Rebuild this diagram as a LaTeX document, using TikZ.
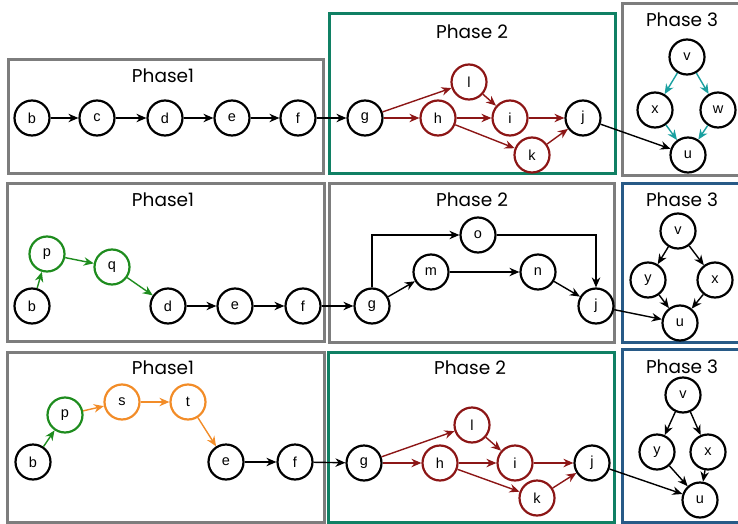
\documentclass[tikz,border=0pt]{standalone}
\usepackage{fontspec}
\setmainfont{Liberation Sans}
\newfontfamily\phasefont{Poppins}
\usetikzlibrary{arrows.meta}
\definecolor{boxgray}{RGB}{125,125,125}
\definecolor{boxteal}{RGB}{16,128,100}
\definecolor{boxblue}{RGB}{40,90,135}
\definecolor{dred}{RGB}{140,22,22}
\definecolor{dgreen}{RGB}{30,140,30}
\definecolor{orng}{RGB}{242,140,40}
\definecolor{tealar}{RGB}{25,160,160}
\tikzset{
  graybox/.style={draw=boxgray,line width=3pt},
  tealbox/.style={draw=boxteal,line width=3pt},
  bluebox/.style={draw=boxblue,line width=3pt},
  plabel/.style={font=\phasefont\fontsize{18.5}{21}\selectfont,inner sep=0pt},
  nd/.style={circle,draw=black,line width=2.2pt,minimum size=35pt,inner sep=0pt,font=\fontsize{14.5}{16}\selectfont},
  rnd/.style={nd,draw=dred},
  gnd/.style={nd,draw=dgreen},
  ond/.style={nd,draw=orng},
  ar/.style={-{Stealth[length=10pt,width=8.5pt]},line width=1.4pt,black},
  rar/.style={ar,dred},
  gar/.style={ar,dgreen},
  oar/.style={ar,orng},
  tar/.style={ar,tealar},
}
\begin{document}
\begin{tikzpicture}[x=1pt,y=-1pt]
\useasboundingbox (0,0) rectangle (738,524);
% ---------- boxes ----------
\draw[graybox] (8,60) rectangle (323,173);
\draw[tealbox] (329,14) rectangle (615,173);
\draw[graybox] (622,4) rectangle (742,175);
\draw[graybox] (7,183) rectangle (324,341);
\draw[graybox] (329,183) rectangle (614,342);
\draw[bluebox] (622,183) rectangle (742,342);
\draw[graybox] (7,352) rectangle (324,522);
\draw[tealbox] (328,352) rectangle (614,522);
\draw[bluebox] (622,349) rectangle (742,522);
% ---------- labels ----------
\node[plabel] (p11) at (163,76) {Phase1};
\node[plabel] (p12) at (472,32) {Phase 2};
\node[plabel] (p13) at (682,20) {Phase 3};
\node[plabel] (p21) at (163,200) {Phase1};
\node[plabel] (p22) at (472,200) {Phase 2};
\node[plabel] (p23) at (682,200) {Phase 3};
\node[plabel] (p31) at (163,368) {Phase1};
\node[plabel] (p32) at (470,368) {Phase 2};
\node[plabel] (p33) at (682,367) {Phase 3};
% ---------- row 1 ----------
\node[nd] (b1) at (32,118) {b};
\node[nd] (c1) at (97,118) {c};
\node[nd] (d1) at (165,118) {d};
\node[nd] (e1) at (232,118) {e};
\node[nd] (f1) at (298,118) {f};
\node[nd] (g1) at (365,118) {g};
\node[rnd] (h1) at (438,118) {h};
\node[rnd] (l1) at (469,82) {l};
\node[rnd] (i1) at (510,118) {i};
\node[rnd] (k1) at (532,155) {k};
\node[nd] (j1) at (583,118) {j};
\node[nd] (v1) at (687,57) {v};
\node[nd] (x1) at (655,110) {x};
\node[nd] (w1) at (718,110) {w};
\node[nd] (u1) at (688,155) {u};
\draw[ar] (b1) -- (c1);
\draw[ar] (c1) -- (d1);
\draw[ar] (d1) -- (e1);
\draw[ar] (e1) -- (f1);
\draw[ar] (f1) -- (g1);
\draw[rar] (g1) -- (l1);
\draw[rar] (g1) -- (h1);
\draw[rar] (h1) -- (i1);
\draw[rar] (h1) -- (k1);
\draw[rar] (l1) -- (i1);
\draw[rar] (i1) -- (j1);
\draw[rar] (k1) -- (j1);
\draw[ar] (j1) -- (u1);
\draw[tar] (v1) -- (x1);
\draw[tar] (v1) -- (w1);
\draw[tar] (x1) -- (u1);
\draw[tar] (w1) -- (u1);
% ---------- row 2 ----------
\node[nd] (b2) at (32,306) {b};
\node[gnd] (p2) at (47,254) {p};
\node[gnd] (q2) at (112,267) {q};
\node[nd] (d2) at (168,306) {d};
\node[nd] (e2) at (235,306) {e};
\node[nd] (f2) at (303,306) {f};
\node[nd] (g2) at (372,306) {g};
\node[nd] (m2) at (431,272) {m};
\node[nd] (o2) at (478,235) {o};
\node[nd] (n2) at (538,272) {n};
\node[nd] (j2) at (596,306) {j};
\node[nd] (v2) at (678,231) {v};
\node[nd] (y2) at (648,280) {y};
\node[nd] (x2) at (715,280) {x};
\node[nd] (u2) at (680,323) {u};
\draw[gar] (b2) -- (p2);
\draw[gar] (p2) -- (q2);
\draw[gar] (q2) -- (d2);
\draw[ar] (d2) -- (e2);
\draw[ar] (e2) -- (f2);
\draw[ar] (f2) -- (g2);
\draw[ar] (g2) |- (o2);
\draw[ar] (o2) -| (j2);
\draw[ar] (g2) -- (m2);
\draw[ar] (m2) -- (n2);
\draw[ar] (n2) -- (j2);
\draw[ar] (j2) -- (u2);
\draw[ar] (v2) -- (y2);
\draw[ar] (v2) -- (x2);
\draw[ar] (y2) -- (u2);
\draw[ar] (x2) -- (u2);
% ---------- row 3 ----------
\node[nd] (b3) at (33,462) {b};
\node[gnd] (p3) at (65,415) {p};
\node[ond] (s3) at (122,402) {s};
\node[ond] (t3) at (188,402) {t};
\node[nd] (e3) at (226,462) {e};
\node[nd] (f3) at (295,462) {f};
\node[nd] (g3) at (364,463) {g};
\node[rnd] (h3) at (440,463) {h};
\node[rnd] (l3) at (472,425) {l};
\node[rnd] (i3) at (515,463) {i};
\node[rnd] (k3) at (537,498) {k};
\node[nd] (j3) at (592,463) {j};
\node[nd] (v3) at (683,395) {v};
\node[nd] (y3) at (657,452) {y};
\node[nd] (x3) at (708,452) {x};
\node[nd] (u3) at (700,500) {u};
\draw[gar] (b3) -- (p3);
\draw[oar] (p3) -- (s3);
\draw[oar] (s3) -- (t3);
\draw[oar] (t3) -- (e3);
\draw[ar] (e3) -- (f3);
\draw[ar] (f3) -- (g3);
\draw[rar] (g3) -- (l3);
\draw[rar] (g3) -- (h3);
\draw[rar] (h3) -- (i3);
\draw[rar] (h3) -- (k3);
\draw[rar] (l3) -- (i3);
\draw[rar] (i3) -- (j3);
\draw[rar] (k3) -- (j3);
\draw[ar] (j3) -- (u3);
\draw[ar] (v3) -- (y3);
\draw[ar] (v3) -- (x3);
\draw[ar] (y3) -- (u3);
\draw[ar] (x3) -- (u3);
\end{tikzpicture}
\end{document}
